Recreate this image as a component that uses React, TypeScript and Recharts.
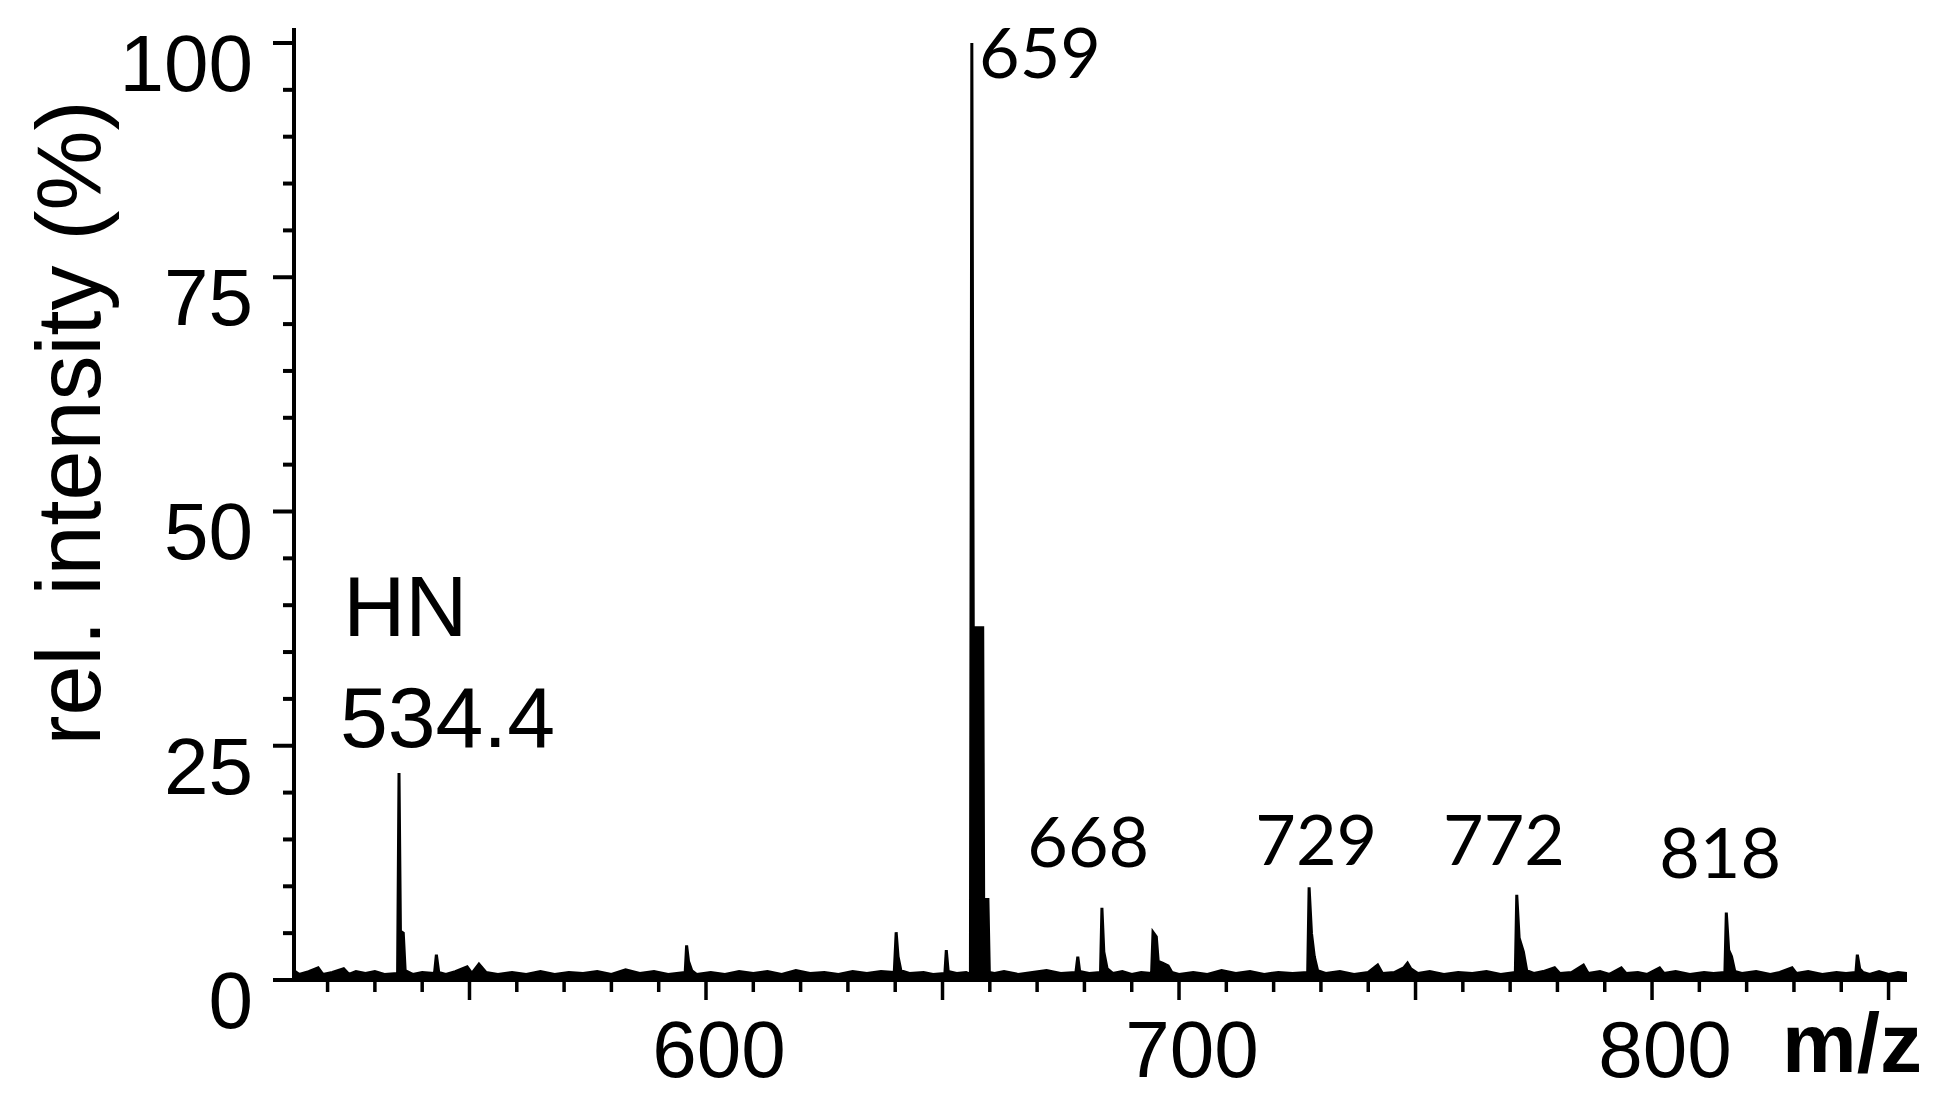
import React from 'react';
import { ComposedChart, Area, XAxis, YAxis, ReferenceDot, Label } from 'recharts';

// m/z positions of the trace (peaks + baseline noise)
const mzValues = [
  512.9, 514, 516, 518, 519, 521, 523.4, 524.5, 526, 528, 530, 532, 534.8, 535.1, 535.4, 536.0, 536.4,
  538, 540, 542.6, 543, 543.5, 545, 547, 549.5, 550.5, 552, 553.5, 556, 559, 562, 565, 568, 571, 574,
  577, 580, 583, 586, 589, 592, 595.6, 595.9, 596.3, 597, 598, 601, 604, 607, 610, 613, 616, 619, 622,
  625, 628, 631, 634, 637, 639.8, 640.2, 640.6, 641.2, 643, 646, 648, 650.5, 650.8, 651.2, 653, 655,
  655.9, 656.2, 656.5, 658.5, 658.7, 659.6, 659.9, 661, 663, 666, 669, 672, 675, 678.2, 678.6, 679, 681,
  683.4, 683.7, 684.1, 684.8, 686, 688, 690, 692, 694.2, 694.5, 695.2, 695.6, 696.5, 697.7, 698.5, 700,
  703, 706, 709, 712, 715, 718, 721, 724, 727.2, 727.5, 728.0, 728.6, 729.3, 731, 734, 737, 740, 742,
  743, 745.5, 747.5, 748.3, 749, 750.5, 753, 756, 759, 762, 765, 768, 771.1, 771.4, 771.9, 772.8, 773.5,
  775, 777, 779.4, 780.5, 783, 785.5, 786.5, 789, 791, 793.5, 794.5, 797, 799, 801.6, 802.5, 805, 808,
  811, 813, 815.4, 815.7, 816.2, 816.8, 817.5, 819, 822, 825, 827, 829.6, 830.5, 833, 836, 839, 841,
  843.1, 843.4, 843.9, 844.6, 846, 848, 850, 852, 853.9,
];

// relative intensity (%) at each m/z above
const relIntensity = [
  1.0, 0.6, 0.9, 1.3, 0.6, 0.8, 1.2, 0.6, 0.9, 0.7, 0.9, 0.6, 0.7, 22.1, 5.2, 5.0, 1.0,
  0.6, 0.8, 0.7, 2.7, 0.8, 0.6, 0.9, 1.4, 0.7, 1.7, 0.8, 0.6, 0.8, 0.6, 0.9, 0.6, 0.8, 0.7,
  0.9, 0.6, 1.1, 0.7, 0.9, 0.6, 0.8, 3.7, 2.0, 1.0, 0.6, 0.8, 0.6, 0.9, 0.7, 0.9, 0.6, 1.0, 0.7,
  0.8, 0.6, 0.9, 0.7, 0.9, 0.8, 5.1, 2.5, 1.0, 0.7, 0.8, 0.6, 0.7, 3.2, 0.9, 0.7, 0.8,
  0.6, 100, 37.6, 37.6, 8.6, 8.6, 0.8, 0.7, 0.9, 0.6, 0.8, 1.0, 0.7, 0.8, 2.5, 0.9, 0.7,
  0.8, 7.7, 3.0, 1.2, 0.7, 0.9, 0.6, 0.8, 0.7, 5.1, 4.6, 2.0, 1.8, 1.5, 0.8, 0.6,
  0.8, 0.6, 1.0, 0.7, 0.9, 0.6, 0.8, 0.7, 0.8, 9.9, 5.0, 2.5, 1.0, 0.7, 0.9, 0.6, 0.8, 1.6,
  0.7, 0.8, 1.3, 1.8, 1.2, 0.7, 0.9, 0.6, 0.8, 0.7, 0.9, 0.6, 0.8, 9.1, 4.5, 3.0, 1.0,
  0.7, 0.9, 1.3, 0.7, 0.8, 1.6, 0.7, 0.9, 0.6, 1.3, 0.7, 0.8, 0.6, 1.3, 0.7, 0.9, 0.6,
  0.8, 0.7, 0.8, 7.2, 3.2, 2.5, 0.9, 0.7, 0.9, 0.6, 0.8, 1.3, 0.7, 0.9, 0.6, 0.8, 0.7,
  0.8, 2.7, 1.2, 0.8, 0.6, 0.9, 0.6, 0.8, 0.7,
];

const xTicks = [
  520, 530, 540, 550, 560, 570, 580, 590, 600, 610, 620, 630, 640, 650, 660, 670, 680,
  690, 700, 710, 720, 730, 740, 750, 760, 770, 780, 790, 800, 810, 820, 830, 840, 850,
];
const xMajorTicks = [550, 600, 650, 700, 750, 800, 850];
const xLabelTicks = [600, 700, 800];

const yTicks = [0, 5, 10, 15, 20, 25, 30, 35, 40, 45, 50, 55, 60, 65, 70, 75, 80, 85, 90, 95, 100];
const yLabelTicks = [0, 25, 50, 75, 100];

// peak annotations: text, centre m/z, baseline intensity
const peakLabels = ['659', '668', '729', '772', '818'];
const peakLabelMz = [670.6, 680.8, 729.0, 768.7, 814.4];
const peakLabelY = [96.3, 12.1, 12.3, 12.3, 10.9];

// "HN / 534.4" note, left-aligned
const hnLines = ['HN', '534.4'];
const hnMz = [523.3, 522.6];
const hnY = [36.7, 24.9];

const data = mzValues.map((mz, i) => ({ mz, y: relIntensity[i] }));

const sans = '"Liberation Sans", Arial, sans-serif';

const XTick = (props: any) => {
  const { x, y, payload } = props;
  const v = payload.value;
  const major = xMajorTicks.includes(v);
  return (
    <g>
      <line x1={x} x2={x} y1={y} y2={y + (major ? 20 : 12)} stroke="#000" strokeWidth={3.5} />
      {xLabelTicks.includes(v) && (
        <text x={x + 13} y={y + 97} textAnchor="middle" fontSize={80} fontFamily={sans} fill="#000">
          {v}
        </text>
      )}
    </g>
  );
};

const YTick = (props: any) => {
  const { x, y, payload } = props;
  const v = payload.value;
  const major = yLabelTicks.includes(v);
  return (
    <g>
      <line x1={x} x2={x - (major ? 21 : 11)} y1={y} y2={y} stroke="#000" strokeWidth={4} />
      {major && (
        <text x={x - 41} y={y + 48} textAnchor="end" fontSize={80} fontFamily={sans} fill="#000">
          {v}
        </text>
      )}
    </g>
  );
};

const YTitle = (props: any) => {
  const vb = props.viewBox;
  const cx = vb.x + 100;
  const cy = vb.y + 395;
  return (
    <text
      x={cx}
      y={cy}
      transform={`rotate(-90 ${cx} ${cy})`}
      textAnchor="middle"
      fontSize={90}
      fontFamily={sans}
      fill="#000"
    >
      rel. intensity (%)
    </text>
  );
};

const XTitle = (props: any) => {
  const vb = props.viewBox;
  return (
    <text
      x={vb.x + vb.width + 15}
      y={vb.y + 92}
      textAnchor="end"
      fontSize={84}
      fontWeight="bold"
      fontFamily={sans}
      fill="#000"
    >
      m/z
    </text>
  );
};

export default function App() {
  return (
    <div style={{ position: 'absolute', left: 0, top: 0, width: 1935, height: 1109, background: '#fff' }}>
      <ComposedChart width={1935} height={1109} data={data} margin={{ top: 28, right: 28, bottom: 0, left: 0 }}>
        <XAxis
          dataKey="mz"
          type="number"
          domain={[512.9, 853.9]}
          ticks={xTicks}
          interval={0}
          height={129}
          tickSize={0}
          tickMargin={0}
          tick={<XTick />}
          axisLine={{ stroke: '#000', strokeWidth: 4 }}
          tickLine={false}
          allowDataOverflow
        >
          <Label content={<XTitle />} />
        </XAxis>
        <YAxis
          dataKey="y"
          type="number"
          domain={[0, 101.6]}
          ticks={yTicks}
          interval={0}
          width={294}
          tickSize={0}
          tickMargin={0}
          tick={<YTick />}
          axisLine={{ stroke: '#000', strokeWidth: 4 }}
          tickLine={false}
          allowDataOverflow
        >
          <Label content={<YTitle />} />
        </YAxis>
        <Area
          type="linear"
          dataKey="y"
          stroke="#000"
          strokeWidth={3}
          fill="#000"
          fillOpacity={1}
          dot={false}
          activeDot={false}
          isAnimationActive={false}
        />
        {peakLabels.map((t, i) => (
          <ReferenceDot
            key={t}
            x={peakLabelMz[i]}
            y={peakLabelY[i]}
            r={0}
            ifOverflow="visible"
            shape={(p: any) => (
              <text x={p.cx} y={p.cy} textAnchor="middle" fontSize={70} fontFamily="Lato, sans-serif" fill="#000">
                {t}
              </text>
            )}
          />
        ))}
        {hnLines.map((t, i) => (
          <ReferenceDot
            key={t}
            x={hnMz[i]}
            y={hnY[i]}
            r={0}
            ifOverflow="visible"
            shape={(p: any) => (
              <text x={p.cx} y={p.cy} textAnchor="start" fontSize={86} fontFamily={sans} fill="#000">
                {t}
              </text>
            )}
          />
        ))}
      </ComposedChart>
    </div>
  );
}
